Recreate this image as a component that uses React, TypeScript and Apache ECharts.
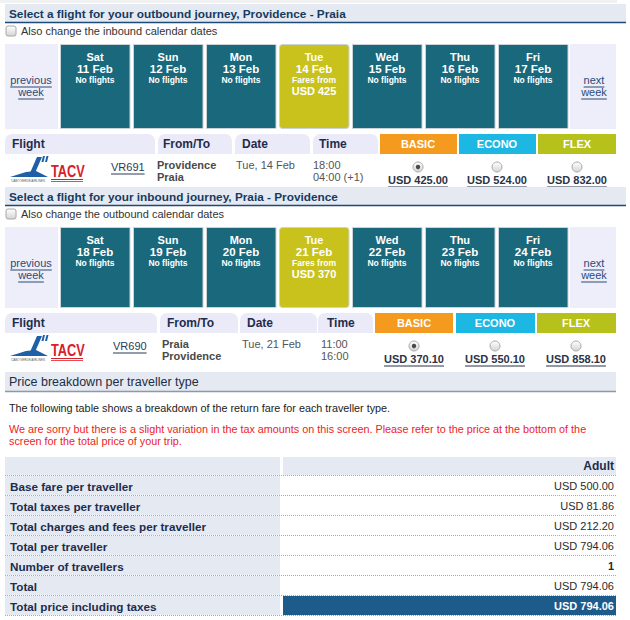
import React, { useEffect, useRef } from "react";
import * as echarts from "echarts";

const FONT = "'Liberation Sans', Arial, Helvetica, sans-serif";

// ---------- data ----------
const outboundTitle = "Select a flight for your outbound journey, Providence - Praia";
const inboundTitle = "Select a flight for your inbound journey, Praia - Providence";
const outboundCheckbox = "Also change the inbound calendar dates";
const inboundCheckbox = "Also change the outbound calendar dates";
const weekDays = ["Sat", "Sun", "Mon", "Tue", "Wed", "Thu", "Fri"];
const outboundDates = ["11 Feb", "12 Feb", "13 Feb", "14 Feb", "15 Feb", "16 Feb", "17 Feb"];
const outboundFromFares: (number | null)[] = [null, null, null, 425, null, null, null];
const inboundDates = ["18 Feb", "19 Feb", "20 Feb", "21 Feb", "22 Feb", "23 Feb", "24 Feb"];
const inboundFromFares: (number | null)[] = [null, null, null, 370, null, null, null];
const flightColumns = ["Flight", "From/To", "Date", "Time"];
const fareClasses = ["BASIC", "ECONO", "FLEX"];
const fareClassColors = ["#f39a1f", "#1db7e3", "#b7c11b"];
const outboundFlight = ["VR691", "Providence", "Praia", "Tue, 14 Feb", "18:00", "04:00 (+1)"];
const inboundFlight = ["VR690", "Praia", "Providence", "Tue, 21 Feb", "11:00", "16:00"];
const outboundPrices = [425.0, 524.0, 832.0];
const inboundPrices = [370.1, 550.1, 858.1];
const breakdownTitle = "Price breakdown per traveller type";
const breakdownIntro = "The following table shows a breakdown of the return fare for each traveller type.";
const breakdownWarning = [
  "We are sorry but there is a slight variation in the tax amounts on this screen. Please refer to the price at the bottom of the",
  "screen for the total price of your trip.",
];
const travellerType = "Adult";
const breakdownLabels = [
  "Base fare per traveller",
  "Total taxes per traveller",
  "Total charges and fees per traveller",
  "Total per traveller",
  "Number of travellers",
  "Total",
  "Total price including taxes",
];
const breakdownValues = [500.0, 81.86, 212.2, 794.06, 1, 794.06, 794.06];
const breakdownIsCount = [false, false, false, false, true, false, false];

// ---------- helpers ----------
const measureCtx = document.createElement("canvas").getContext("2d")!;
const fontStr = (size: number, weight: string) => `${weight} ${size}px ${FONT}`;
const measure = (t: string, size: number, weight: string) => {
  measureCtx.font = fontStr(size, weight);
  return measureCtx.measureText(t).width;
};
const usd = (v: number) => `USD ${v.toFixed(2)}`;

const T = (
  x: number, y: number, text: string, size: number, weight: string, fill: string,
  align: string = "left", vAlign: string = "middle"
) => ({
  type: "text", x, y, silent: true,
  style: {
    text, fill, font: fontStr(size, weight),
    textAlign: align, textVerticalAlign: vAlign, align, verticalAlign: vAlign,
  },
});
const R = (x: number, y: number, w: number, h: number, fill: any, extra: any = {}) => ({
  type: "rect", silent: true,
  shape: { x, y, width: w, height: h, r: extra.r || 0 },
  style: { fill, stroke: extra.stroke || null, lineWidth: extra.lineWidth || 0 },
});
const L = (x1: number, y1: number, x2: number, y2: number, stroke: string, lw = 1, dash: any = null) => ({
  type: "line", silent: true,
  shape: { x1, y1, x2, y2 },
  style: { stroke, lineWidth: lw, lineDash: dash },
});
const link = (els: any[], x: number, y: number, text: string, size: number, weight: string, fill: string, align = "left") => {
  const w = measure(text, size, weight);
  const x0 = align === "center" ? x - w / 2 : align === "right" ? x - w : x;
  els.push(T(x, y, text, size, weight, fill, align));
  els.push(L(x0, y + size / 2 + 1.5, x0 + w, y + size / 2 + 1.5, fill, 1));
};
const radioGrad = new echarts.graphic.LinearGradient(0, 0, 0, 1, [
  { offset: 0, color: "#ffffff" },
  { offset: 1, color: "#d4d4d4" },
]);
const radio = (els: any[], cx: number, cy: number, checked: boolean) => {
  els.push({ type: "circle", silent: true, shape: { cx, cy, r: 5 }, style: { fill: radioGrad, stroke: "#a8a8a8", lineWidth: 1 } });
  if (checked) els.push({ type: "circle", silent: true, shape: { cx, cy, r: 2.2 }, style: { fill: "#4a4a4a" } });
};
const checkbox = (els: any[], x: number, y: number) => {
  els.push({
    type: "rect", silent: true, shape: { x, y, width: 10, height: 10, r: 2 },
    style: { fill: radioGrad, stroke: "#a8a8a8", lineWidth: 1 },
  });
};
const logo = (els: any[], x: number, y: number) => {
  const blue = "#1f5fa8";
  // Cabo Verde Airlines mark
  els.push({ type: "polygon", silent: true, shape: { points: [[x + 27, y + 1], [x + 32, y + 1], [x + 25, y + 17], [x + 20, y + 17]] }, style: { fill: blue } });
  els.push({ type: "polygon", silent: true, shape: { points: [[x + 33, y + 0], [x + 35, y + 0], [x + 33.5, y + 6], [x + 31.5, y + 6]] }, style: { fill: blue } });
  els.push({ type: "polygon", silent: true, shape: { points: [[x + 36.5, y + 0], [x + 38.5, y + 0], [x + 37, y + 6], [x + 35, y + 6]] }, style: { fill: blue } });
  els.push({ type: "polygon", silent: true, shape: { points: [[x + 0, y + 21], [x + 16, y + 16], [x + 26, y + 15], [x + 38, y + 21]] }, style: { fill: blue } });
  els.push({ type: "text", silent: true, x: x + 1, y: y + 24.5, style: { text: "CABO VERDE AIRLINES", fill: "#555", font: `3px ${FONT}`, verticalAlign: "middle", textVerticalAlign: "middle" } });
  // TACV
  els.push({ type: "text", silent: true, x: x + 41, y: y + 15, scaleX: 0.8, style: { text: "TACV", fill: "#d8202a", font: `bold 16px ${FONT}`, verticalAlign: "middle", textVerticalAlign: "middle" } });
  els.push(L(x + 41, y + 23.5, x + 73, y + 23.5, "#d8202a", 1));
  els.push(L(x + 41, y + 25.5, x + 73, y + 25.5, "#d8202a", 0.8));
};

type Journey = {
  top: number; calH: number; barW: number;
  title: string; cb: string; dates: string[]; fares: (number | null)[];
  cells: number[][]; headX: number[]; dataX: number[]; centers: number[];
  flight: string[]; prices: number[]; selected: number;
};

const buildJourney = (els: any[], j: Journey) => {
  const { top } = j;
  // title bar
  els.push(R(5, top, j.barW, 18, "#e5e9f1"));
  els.push(L(5, top + 18.5, 5 + j.barW, top + 18.5, "#1d4a79", 1.5));
  els.push(T(9, top + 10, j.title, 11.8, "bold", "#173a60"));
  // checkbox row
  checkbox(els, 6, top + 22);
  els.push(T(21, top + 27, j.cb, 11, "normal", "#333"));
  // calendar
  const cy = top + 40;
  els.push(R(5, cy, 53, j.calH, "#eeeefb"));
  link(els, 31, cy + 36, "previous", 11, "normal", "#2a4a73", "center");
  link(els, 31, cy + 48, "week", 11, "normal", "#2a4a73", "center");
  els.push(R(570, cy, 46, j.calH, "#eeeefb"));
  link(els, 594, cy + 36, "next", 11, "normal", "#2a4a73", "center");
  link(els, 594, cy + 48, "week", 11, "normal", "#2a4a73", "center");
  weekDays.forEach((d, i) => {
    const x = 60 + i * 73;
    const fare = j.fares[i];
    const has = fare !== null;
    els.push(R(x + 0.5, cy + 0.5, 69.5, j.calH - 1, has ? "#c9c21c" : "#1a687c", { stroke: "#c9d3d8", lineWidth: 1, r: has ? 3 : 0 }));
    const cx = x + 35;
    els.push(T(cx, cy + 13, d, 11, "bold", "#fff", "center"));
    els.push(T(cx, cy + 25, j.dates[i], 11.5, "bold", "#fff", "center"));
    if (has) {
      els.push(T(cx, cy + 36, "Fares from", 8.5, "bold", "#fff", "center"));
      els.push(T(cx, cy + 47, `USD ${fare}`, 11, "bold", "#fff", "center"));
    } else {
      els.push(T(cx, cy + 36, "No flights", 8.5, "bold", "#fff", "center"));
    }
  });
  // flight table header
  const fy = cy + j.calH + 5;
  flightColumns.forEach((c, i) => {
    const [a, b] = j.cells[i];
    els.push(R(a, fy, b - a, 20, "#ebeaf8", { r: [7, 7, 0, 0] }));
    els.push(T(j.headX[i], fy + 10, c, 12, "bold", "#1d2d4d"));
  });
  fareClasses.forEach((c, k) => {
    const [a, b] = j.cells[4 + k];
    els.push(R(a, fy, b - a, 20, fareClassColors[k]));
    els.push(T(j.centers[k], fy + 10, c, 11, "bold", "#fff", "center"));
  });
  // data row
  logo(els, 10, fy + 22);
  link(els, j.dataX[0], fy + 33, j.flight[0], 11, "normal", "#2b3a57");
  els.push(T(j.dataX[1], fy + 31, j.flight[1], 11, "bold", "#4a4a4a"));
  els.push(T(j.dataX[1], fy + 43, j.flight[2], 11, "bold", "#4a4a4a"));
  els.push(T(j.dataX[2], fy + 31, j.flight[3], 11, "normal", "#555"));
  els.push(T(j.dataX[3], fy + 31, j.flight[4], 11, "normal", "#555"));
  els.push(T(j.dataX[3], fy + 43, j.flight[5], 11, "normal", "#555"));
  j.prices.forEach((p, k) => {
    radio(els, j.centers[k], fy + 33, k === j.selected);
    link(els, j.centers[k], fy + 46, usd(p), 11, "bold", "#2a3347", "center");
  });
};

const buildAll = () => {
  const els: any[] = [];
  els.push(R(0, 0, 617, 3, "#f1f1f1"));
  buildJourney(els, {
    top: 4, calH: 85, barW: 621,
    title: outboundTitle, cb: outboundCheckbox, dates: outboundDates, fares: outboundFromFares,
    cells: [[5, 155], [158, 232], [235, 310], [313, 378], [380, 457], [459, 536], [538, 616]],
    headX: [12, 163, 242, 319], dataX: [111, 157, 236, 313], centers: [418, 497, 577],
    flight: outboundFlight, prices: outboundPrices, selected: 0,
  });
  buildJourney(els, {
    top: 187, calH: 81, barW: 621,
    title: inboundTitle, cb: inboundCheckbox, dates: inboundDates, fares: inboundFromFares,
    cells: [[5, 157], [160, 238], [240, 317], [318, 373], [375, 453], [456, 535], [537, 616]],
    headX: [12, 167, 247, 327], dataX: [113, 162, 242, 321], centers: [414, 495, 576],
    flight: inboundFlight, prices: inboundPrices, selected: 0,
  });
  // price breakdown
  els.push(R(5, 372, 611, 19, "#e5e9f1"));
  els.push(L(5, 391.5, 616, 391.5, "#8d98a8", 1.5));
  els.push(T(9, 382, breakdownTitle, 12.5, "normal", "#1d2d45"));
  els.push(T(9, 408, breakdownIntro, 10.8, "normal", "#222"));
  breakdownWarning.forEach((w, i) => els.push(T(9, 429 + i * 12, w, 10.8, "normal", "#ec1c24")));
  // table
  const ty = 457;
  els.push(R(5, ty, 275, 18, "#e5e9f1"));
  els.push(R(283, ty, 333, 18, "#e5e9f1"));
  els.push(T(614, ty + 9, travellerType, 12, "bold", "#1d2d4d", "right"));
  els.push(L(5, ty + 18.5, 616, ty + 18.5, "#a9a9a9", 1, [1, 1]));
  breakdownLabels.forEach((lab, i) => {
    const y = ty + 19 + i * 20;
    const last = i === breakdownLabels.length - 1;
    els.push(R(5, y, 275, 19, "#e5e9f1"));
    if (last) els.push(R(283, y, 333, 19, "#1d5b8a"));
    els.push(T(10, y + 10, lab, 11.7, "bold", "#1d2d4d"));
    const v = breakdownIsCount[i] ? String(breakdownValues[i]) : usd(breakdownValues[i]);
    els.push(T(614, y + 10, v, 11, last || breakdownIsCount[i] ? "bold" : "normal", last ? "#fff" : "#2a2a2a", "right"));
    els.push(L(5, y + 19.5, 616, y + 19.5, "#a9a9a9", 1, [1, 1]));
  });
  return els;
};

export default function App() {
  const ref = useRef<HTMLDivElement>(null);
  useEffect(() => {
    document.body.style.margin = "0";
    const chart = echarts.init(ref.current!, null, { renderer: "svg" });
    chart.setOption({
      animation: false,
      backgroundColor: "#ffffff",
      graphic: { elements: buildAll() },
    });
    return () => chart.dispose();
  }, []);
  return <div ref={ref} style={{ width: 630, height: 620 }} />;
}
